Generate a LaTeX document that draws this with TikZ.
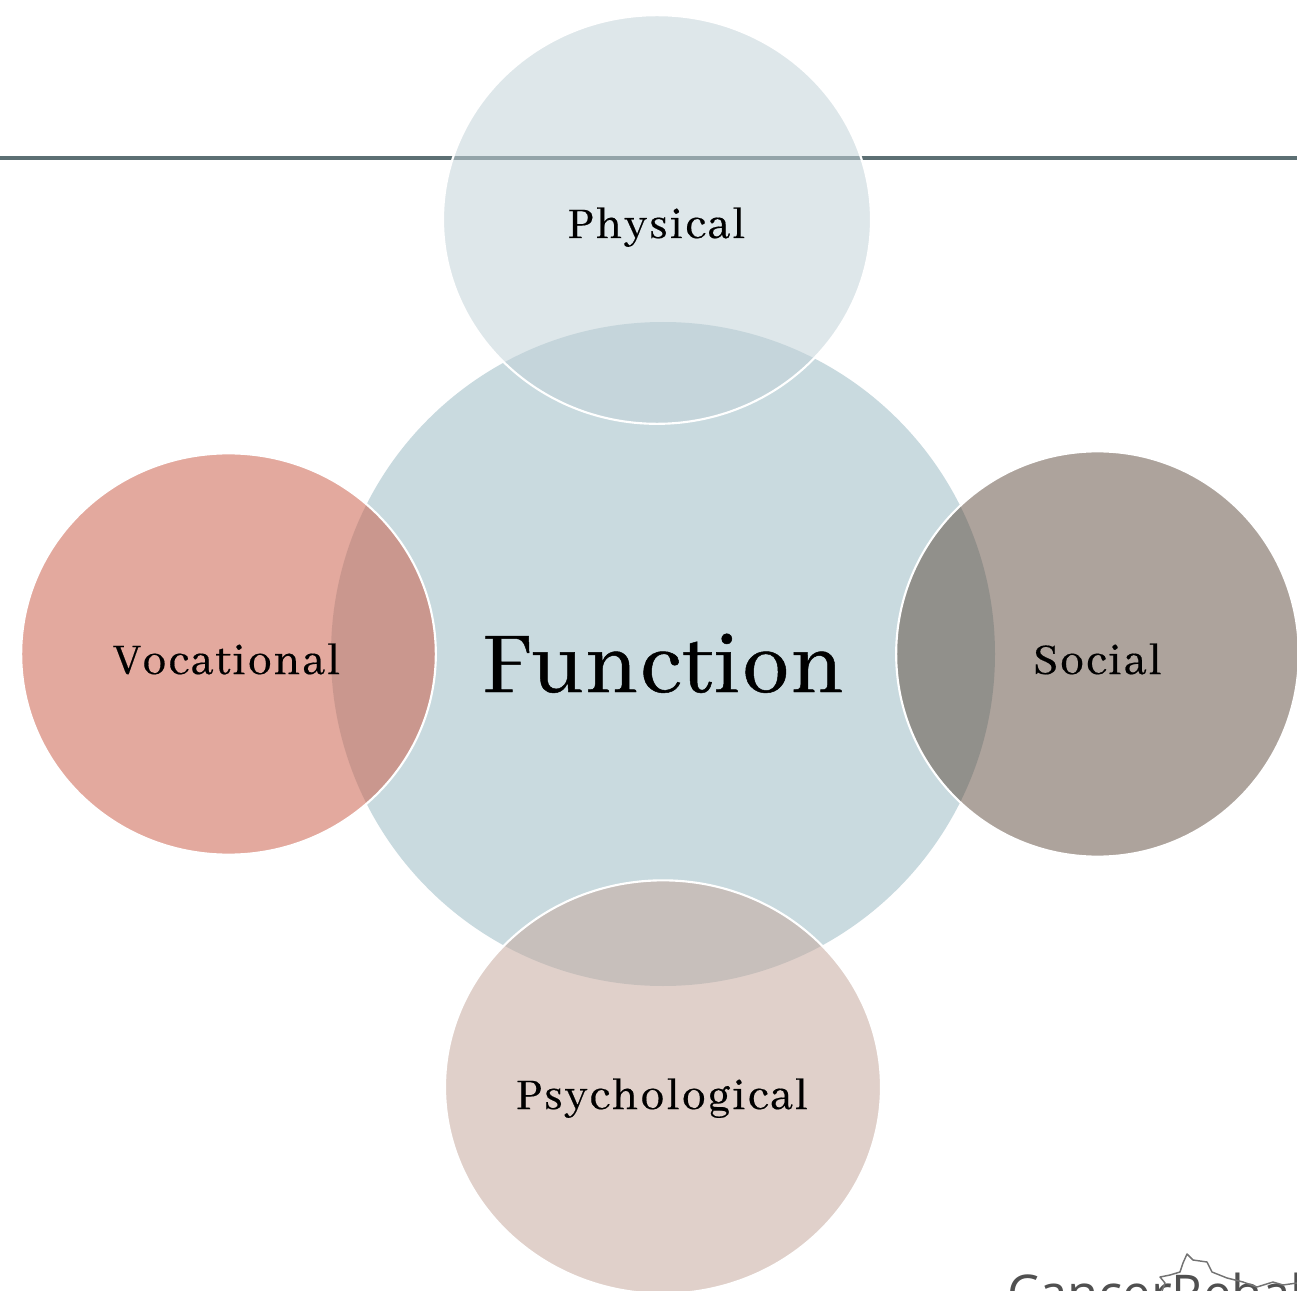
\documentclass[tikz,border=0pt]{standalone}
\usepackage{fontspec}
\usetikzlibrary{shapes.geometric}
\setmainfont{Abhaya Libre}[LetterSpace=4,FakeBold=0.35]
\newfontfamily\bigfont{Abhaya Libre}[LetterSpace=1.5,FakeBold=0.5]
\newfontfamily\logofont{Open Sans}
\definecolor{funcfill}{HTML}{C9DADF}
\definecolor{physfill}{RGB}{194,210,216}
\definecolor{vocfill}{RGB}{203,96,75}
\definecolor{socfill}{RGB}{91,71,57}
\definecolor{psyfill}{RGB}{199,170,159}
\definecolor{rulecol}{HTML}{5C6F73}
\definecolor{logocol}{HTML}{505050}
\tikzset{
  x=0.75pt,y=-0.75pt,
  hub/.style={circle,inner sep=0pt,minimum size=498pt,fill=funcfill},
  sat/.style={ellipse,inner sep=0pt,draw=white,line width=1.6pt,fill opacity=#1,draw opacity=1},
  lab/.style={anchor=base,text=black,inner sep=0pt,font=\fontsize{36pt}{40pt}\selectfont},
}
\begin{document}
\begin{tikzpicture}
\useasboundingbox (0,0) rectangle (1297,1291);
\clip (0,0) rectangle (1297,1291);
\coordinate (ruleL) at (0,158);
\coordinate (ruleR) at (1297,158);
\draw[rulecol,line width=3pt] (ruleL) -- (ruleR);
\node[hub] (function) at (663,654) {};
\node[sat=.54,fill=physfill,minimum width=321pt,minimum height=306.5pt] (physical) at (657,219.5) {};
\node[sat=.54,fill=vocfill,minimum width=311pt,minimum height=301pt] (vocational) at (228.5,654) {};
\node[sat=.5,fill=socfill,minimum width=302pt,minimum height=304pt] (social) at (1097.5,654) {};
\node[sat=.55,fill=psyfill,minimum width=327pt,minimum height=310pt] (psychological) at (663,1087) {};
\node[lab] (tphys) at (656.5,238) {Physical};
\node[lab] (tvoc) at (227,674) {Vocational};
\node[lab] (tsoc) at (1097.5,674) {Social};
\node[lab] (tpsy) at (662,1109) {Psychological};
\node[anchor=base,text=black,inner sep=0pt,font=\bigfont\fontsize{71.5pt}{76pt}\selectfont] (tfunc) at (663,692) {Function};
\node[anchor=base west,inner sep=0pt,text=logocol,font=\logofont\fontsize{38pt}{42pt}\selectfont] (logo) at (1007,1311) {CancerRehab};
\draw[logocol!80,line width=1.1pt,line join=round] (1162,1291) -- (1165,1283) -- (1160,1277) -- (1170,1275) -- (1180,1272) -- (1183,1263) -- (1187,1254) -- (1193,1260) -- (1207,1262) -- (1212,1272) -- (1227,1278) -- (1243,1282) -- (1257,1287) -- (1273,1282) -- (1283,1285) -- (1297,1283);
\end{tikzpicture}
\end{document}
